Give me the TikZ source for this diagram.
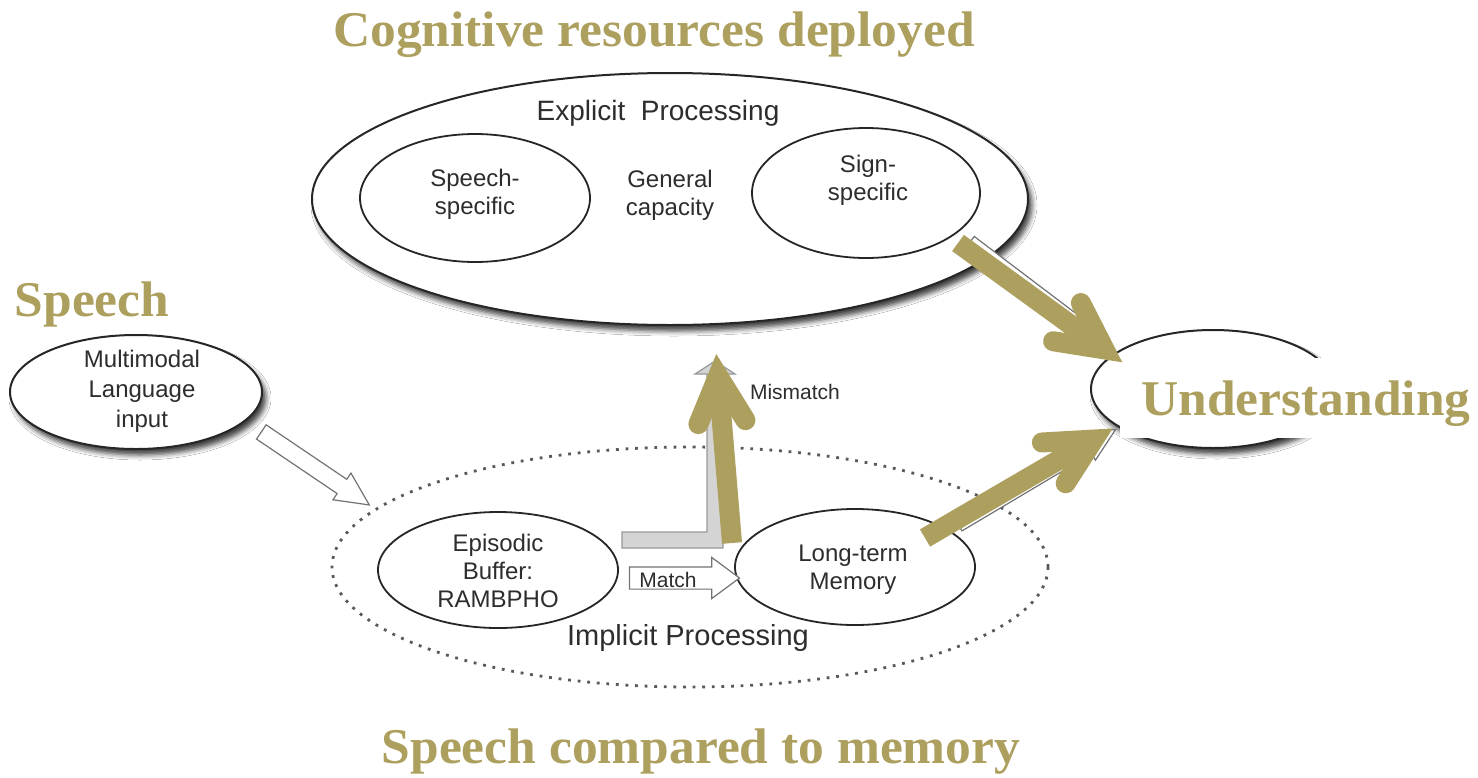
\documentclass[tikz,border=0pt]{standalone}
\usepackage{fontspec}
\setmainfont{Liberation Serif}
\newfontfamily\sansdiag{Liberation Sans}
\newfontfamily\serifgold[FakeStretch=1.03]{Liberation Serif}
\usetikzlibrary{shapes.geometric,shapes.arrows,calc,shadows.blur}

\definecolor{gold}{RGB}{173,159,94}
\definecolor{ink}{RGB}{45,45,45}

\tikzset{
  ring/.style={ellipse, draw=black!85, line width=0.9pt, fill=white, inner sep=0pt},
  softshadow/.style={blur shadow={shadow xshift=2pt, shadow yshift=-3pt,
      shadow blur radius=2.5pt, shadow opacity=75}},
  lbl/.style={font=\sansdiag\fontsize{12}{14}\selectfont, text=ink, align=center, inner sep=0pt},
  mmlbl/.style={lbl, font=\sansdiag\fontsize{12}{15}\selectfont},
  biglbl/.style={font=\sansdiag\fontsize{14.5}{17}\selectfont, text=ink, inner sep=0pt},
  smalllbl/.style={font=\sansdiag\fontsize{10.5}{12}\selectfont, text=ink, inner sep=0pt},
  goldtxt/.style={font=\serifgold\bfseries\fontsize{25}{30}\selectfont, text=gold, inner sep=0pt, anchor=base},
  goldshaft/.style={draw=gold, line width=10pt},
  goldhead/.style={draw=gold, line width=10pt, line cap=round, line join=miter},
  hollow/.style={single arrow, draw=black!55, fill=white, line width=0.6pt,
      inner xsep=0pt, inner ysep=4pt, single arrow head extend=3.75pt,
      single arrow tip angle=52, single arrow head indent=0pt},
  matcharrow/.style={hollow, inner ysep=5.25pt, single arrow head extend=4.75pt,
      single arrow tip angle=73},
}

% outlined block arrow between two points
\newcommand\blockarrow[4][]{%
  \path let \p1=($(#4)-(#3)$), \n1={atan2(\y1,\x1)}, \n2={veclen(\x1,\y1)} in
    node[hollow, #1, rotate=\n1, minimum height=\n2] (#2) at ($(#3)!.5!(#4)$) {};
}

% thick gold arrow with an open, round-ended head; #2 is the visible tip
\newcommand\goldarrow[2]{%
  \coordinate (gT) at ($(#2)!6.5pt!(#1)$);
  \draw[goldshaft] (#1) -- (gT);
  \draw[goldhead] ($(gT)!26pt!27:(#1)$) -- (gT) -- ($(gT)!26pt!-27:(#1)$);
}

\begin{document}
\begin{tikzpicture}[x=0.5pt, y=-0.5pt]
\useasboundingbox (0,0) rectangle (1478,777);
\fill[white] (0,0) rectangle (1478,777);

% ---- explicit processing ----
\node[ring, softshadow, line width=1pt, minimum width=358pt, minimum height=126pt] (explicit) at (670,199) {};
\node[biglbl, font=\sansdiag\fontsize{14}{17}\selectfont] (explbl) at (658,113) {Explicit\ \ Processing};
\node[ring, minimum width=115pt, minimum height=64pt] (speechspec) at (475,198) {};
\node[lbl] (sstxt) at (475,194) {Speech-\\specific};
\node[lbl] (gctxt) at (670,195) {General\\capacity};
\node[ring, minimum width=114pt, minimum height=65pt] (signspec) at (866,193) {};
\node[lbl] (sgtxt) at (868,180) {Sign-\\specific};

% ---- input ----
\node[ring, softshadow, line width=1pt, minimum width=126pt, minimum height=57pt] (multi) at (136,392) {};
\node[mmlbl] (multitxt) at (142,391) {Multimodal\\Language\\input};

% ---- implicit processing ----
\node[ellipse, draw=black!65, line width=1.4pt, dash pattern=on 1.4pt off 3.4pt,
      minimum width=358pt, minimum height=120pt, inner sep=0pt] (implicit) at (690,567) {};
\node[biglbl] (implbl) at (688,638) {Implicit Processing};
\node[ring, minimum width=120pt, minimum height=58pt] (episodic) at (498,570) {};
\node[lbl] (eptxt) at (498,571) {Episodic\\Buffer:\\RAMBPHO};
\node[ring, minimum width=120pt, minimum height=58pt] (ltm) at (855,567) {};
\node[lbl] (ltmtxt) at (853,570) {Long-term\\Memory};

% ---- understanding ----
\node[ring, softshadow, line width=1pt, minimum width=122pt, minimum height=59pt] (und) at (1213,389) {};
\fill[white] (1120,358) rectangle (1478,438);
\node[goldtxt] (undtxt) at (1306,415) {Understanding};

% ---- block arrows ----
\coordinate (mmtail) at (254,427);
\coordinate (mmtip) at (362,500);
\blockarrow{inarrow}{mmtail}{mmtip}

\coordinate (matchtail) at (622,578);
\coordinate (matchtip) at (732,578);
\blockarrow[matcharrow]{matcharr}{matchtail}{matchtip}
\node[smalllbl] (matchtxt) at (668,580) {Match};

\coordinate (sgtail) at (962,238);
\coordinate (sgtip) at (1110,350);
\blockarrow{sgarrow}{sgtail}{sgtip}
\coordinate (lttail) at (950,528);
\coordinate (lttip) at (1108,434);
\blockarrow{ltarrow}{lttail}{lttip}

% mismatch: bent grey arrow out of the buffer
\draw[fill=black!17, draw=black!40, line width=0.6pt]
  (622,532) -- (707,532) -- (707,374) -- (695,374) -- (715,361) -- (735,374)
  -- (723,374) -- (723,548) -- (622,548) -- cycle;
\node[smalllbl] (mismatch) at (795,392) {Mismatch};

% ---- gold emphasis arrows ----
\coordinate (g1s) at (732,543);
\coordinate (g1t) at (717,363);
\coordinate (g2s) at (958,243);
\coordinate (g2t) at (1115,357);
\coordinate (g3s) at (925,538);
\coordinate (g3t) at (1105,433);
\goldarrow{g1s}{g1t}
\goldarrow{g2s}{g2t}
\goldarrow{g3s}{g3t}

% ---- headings ----
\node[goldtxt] (cog) at (654,46) {Cognitive resources deployed};
\node[goldtxt] (speech) at (92,316) {Speech};
\node[goldtxt] (compared) at (701,763) {Speech compared to memory};
\end{tikzpicture}
\end{document}
